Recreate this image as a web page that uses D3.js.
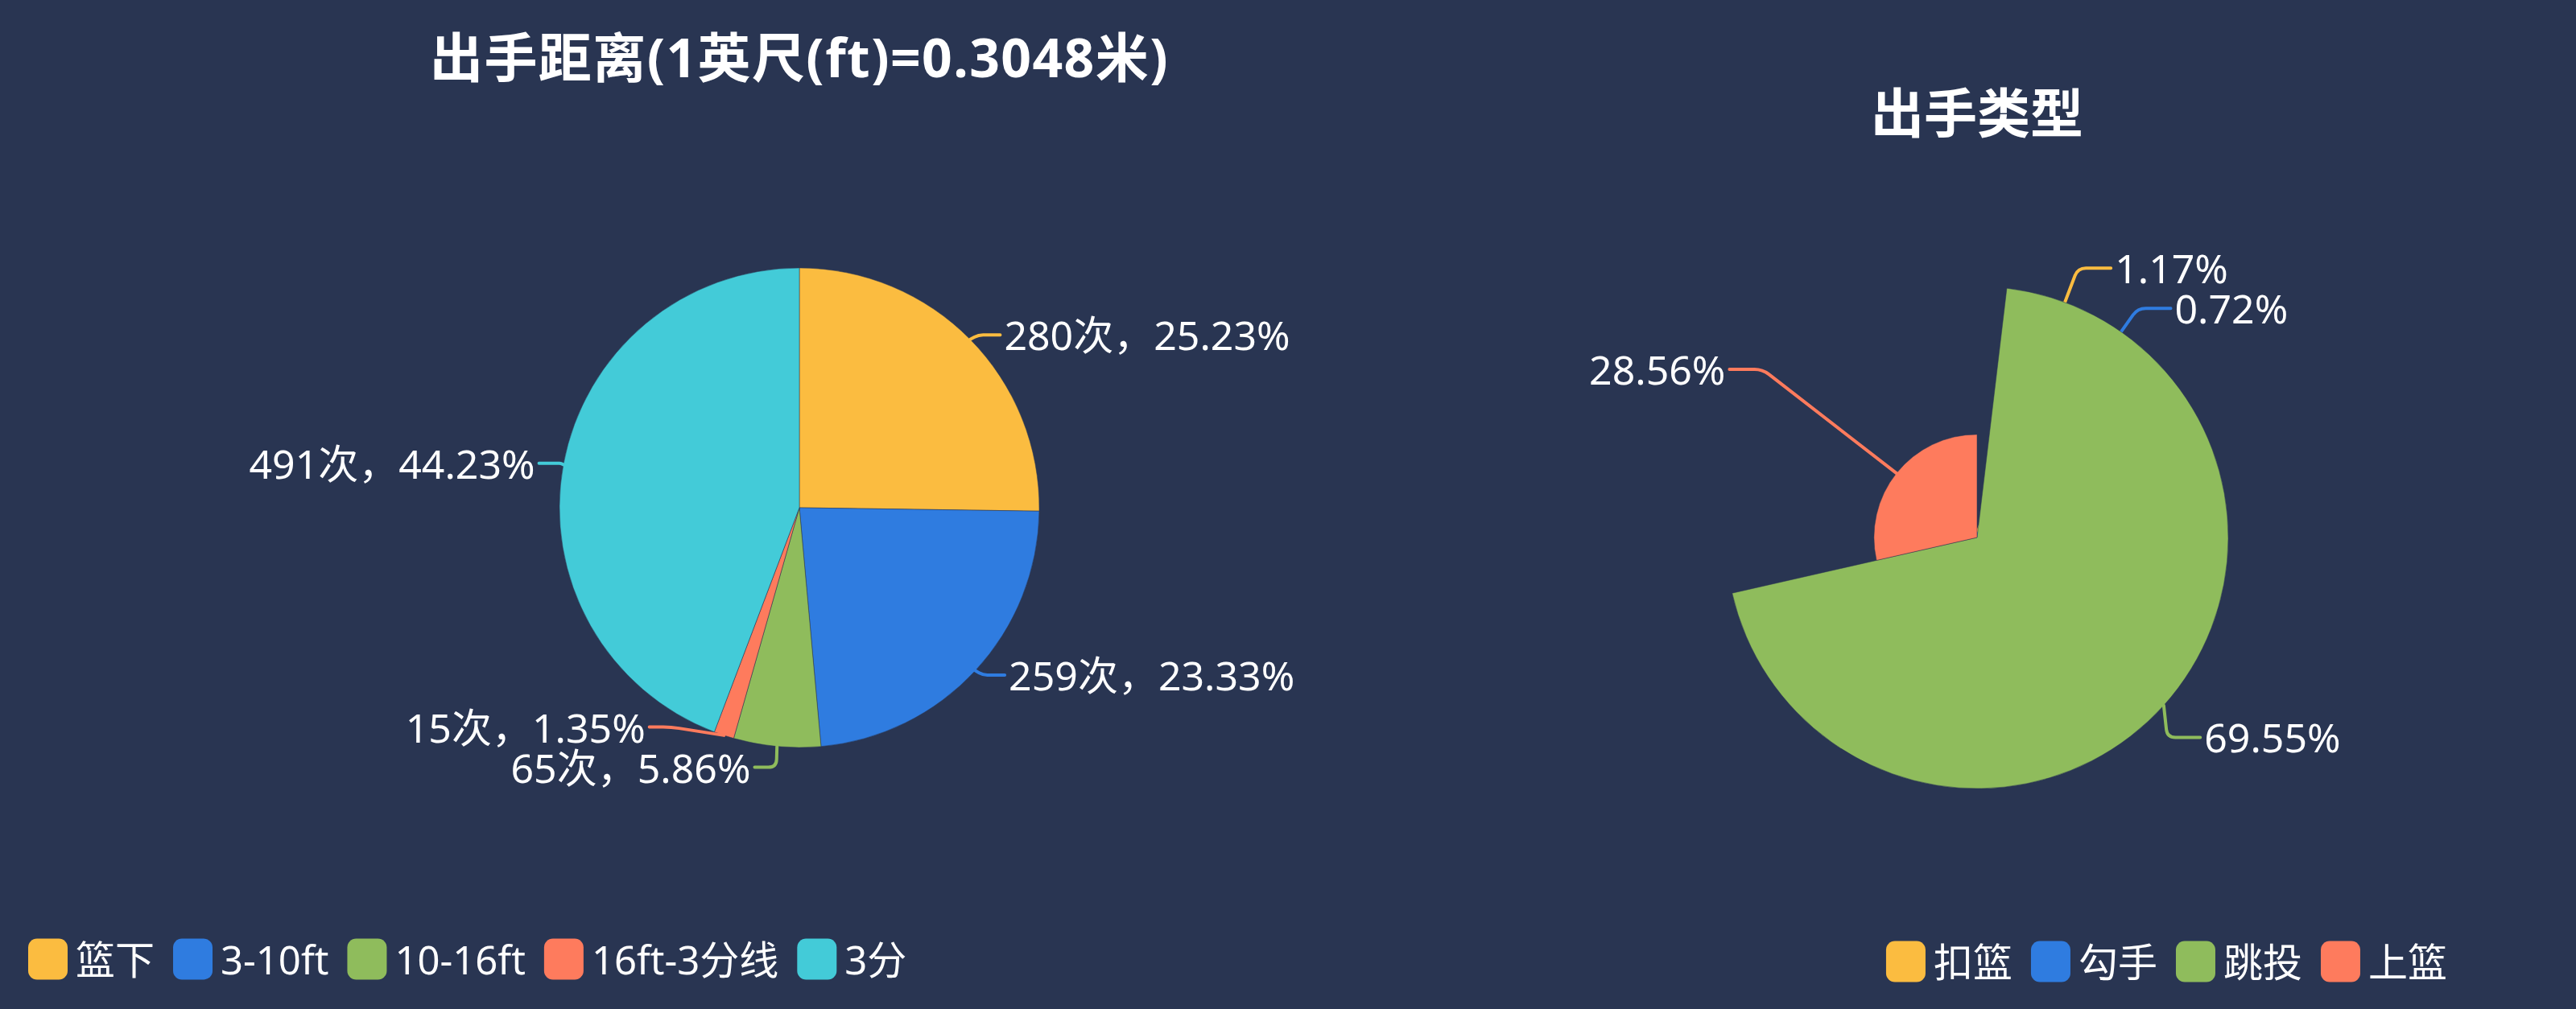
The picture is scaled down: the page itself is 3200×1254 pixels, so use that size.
<!DOCTYPE html>
<html>
<head>
<meta charset="utf-8">
<script src="https://cdn.jsdelivr.net/npm/d3@7"></script>
<style>
	html, body { margin: 0; padding: 0; background: #293552; }
	svg { display: block; font-family: "Noto Sans", "Noto Sans CJK SC", sans-serif; }
</style>
</head>
<body>
<svg id="chart"></svg>
<script>
// shot distance (counts)
const distNames = ["篮下", "3-10ft", "10-16ft", "16ft-3分线", "3分"];
const distCounts = [280, 259, 65, 15, 491];
// shot type (percent)
const typeNames = ["扣篮", "勾手", "跳投", "上篮"];
const typePercents = [1.17, 0.72, 69.55, 28.56];

const distColors = ["#fbbc40", "#2f7ce0", "#8fbc5c", "#fe7b5d", "#43cbd8"];
const typeColors = ["#fbbc40", "#2f7ce0", "#8fbc5c", "#fe7b5d"];

const width = 3200;
const height = 1254;
const bg = "#293552";

const svg = d3.select("#chart")
	.attr("width", width)
	.attr("height", height);

svg.append("rect")
	.attr("width", width)
	.attr("height", height)
	.attr("fill", bg);

const labelFont = 50;
const labelDistance = 5;

// echarts-4 style outside label placement
function layoutLabels(items, cx, cy, R, len, len2) {
	function adjustSide(list, dir) {
		list.sort((a, b) => a.y - b.y);
		function shiftDown(start, end, delta) {
			for (let j = start; j < end; j++) {
				if (list[j].y + delta > height) break;
				list[j].y += delta;
				if (j > start && j + 1 < end && list[j + 1].y > list[j].y + list[j].h) {
					shiftUp(j, delta / 2);
					return;
				}
			}
			shiftUp(end - 1, delta / 2);
		}
		function shiftUp(end, delta) {
			for (let j = end; j >= 0; j--) {
				if (list[j].y - delta < 0) break;
				list[j].y -= delta;
				if (j > 0 && list[j].y > list[j - 1].y + list[j - 1].h) break;
			}
		}
		let lastY = 0;
		for (let i = 0; i < list.length; i++) {
			const delta = list[i].y - lastY;
			if (delta < 0) shiftDown(i, list.length, -delta);
			lastY = list[i].y + list[i].h;
		}
		function changeX(arr, isDown) {
			let last = isDown ? Infinity : 0;
			arr.forEach(d => {
				const dy = Math.abs(d.y - cy);
				let dx = dy < R + len
					? Math.sqrt((R + len + len2) * (R + len + len2) - dy * dy)
					: Math.abs(d.x - cx);
				if (isDown && dx >= last) dx = last - 10;
				if (!isDown && dx <= last) dx = last + 10;
				d.x = cx + dx * dir;
				last = dx;
			});
		}
		changeX(list.filter(d => d.y < cy), false);
		changeX(list.filter(d => d.y >= cy), true);
	}
	adjustSide(items.filter(d => d.x >= cx), 1);
	adjustSide(items.filter(d => d.x < cx), -1);
	items.forEach(d => {
		const dist = d.line[1][0] - d.line[2][0];
		d.line[2][0] = d.x - d.dir * labelDistance;
		d.line[1][0] = d.line[2][0] + dist;
		d.line[1][1] = d.line[2][1] = d.y;
	});
}

// polyline with a rounded bend
function bentLine(pts) {
	const [a, b, c] = pts;
	const l1 = Math.hypot(b[0] - a[0], b[1] - a[1]);
	const l2 = Math.hypot(c[0] - b[0], c[1] - b[1]);
	const k = Math.min(10, l1 / 2, l2 / 2);
	const s = [b[0] - (b[0] - a[0]) / (l1 || 1) * k, b[1] - (b[1] - a[1]) / (l1 || 1) * k];
	const e = [b[0] + (c[0] - b[0]) / (l2 || 1) * k, b[1] + (c[1] - b[1]) / (l2 || 1) * k];
	const p = d3.path();
	p.moveTo(a[0], a[1]);
	p.lineTo(s[0], s[1]);
	p.quadraticCurveTo(b[0], b[1], e[0], e[1]);
	p.lineTo(c[0], c[1]);
	return p.toString();
}

function drawPie(opt) {
	const g = svg.append("g");
	const pie = d3.pie().sort(null).value(d => d)(opt.values);
	const total = d3.sum(opt.values);
	const rScale = d3.scaleLinear().domain([0, d3.max(opt.values)]).range([0, opt.R]);

	const items = pie.map((d, i) => {
		const r = opt.rose ? rScale(d.value) : opt.R;
		const mid = (d.startAngle + d.endAngle) / 2;
		const dx = Math.sin(mid), dy = -Math.cos(mid);
		const x1 = opt.cx + r * dx, y1 = opt.cy + r * dy;
		const x2 = x1 + dx * (opt.len + opt.R - r), y2 = y1 + dy * (opt.len + opt.R - r);
		const dir = dx < 0 ? -1 : 1;
		const x3 = x2 + dir * opt.len2;
		return {
			arc: d, r, i, dir,
			x: x3 + dir * labelDistance, y: y2, h: labelFont,
			line: [[x1, y1], [x2, y2], [x3, y2]],
			text: opt.label(d.value, d.value / total * 100)
		};
	});
	layoutLabels(items.slice(), opt.cx, opt.cy, opt.R, opt.len, opt.len2);

	const arc = d3.arc().innerRadius(0);
	const pieces = g.selectAll(".piece")
		.data(items)
		.enter()
		.append("g")
		.attr("class", "piece");

	pieces.append("path")
		.attr("transform", `translate(${opt.cx},${opt.cy})`)
		.attr("d", d => arc.outerRadius(d.r)(d.arc))
		.attr("fill", d => opt.colors[d.i])
		.attr("stroke", bg)
		.attr("stroke-opacity", 0.5)
		.attr("stroke-width", 1);

	pieces.append("path")
		.attr("d", d => bentLine(d.line))
		.attr("fill", "none")
		.attr("stroke", d => opt.colors[d.i])
		.attr("stroke-width", 4)
		.attr("stroke-linejoin", "round")
		.attr("stroke-linecap", "round");

	g.selectAll(".lbl")
		.data(items)
		.enter()
		.append("text")
		.attr("x", d => d.x)
		.attr("y", d => d.y)
		.attr("text-anchor", d => d.dir < 0 ? "end" : "start")
		.attr("dominant-baseline", "central")
		.attr("fill", "#fff")
		.attr("font-size", labelFont)
		.text(d => d.text);

	svg.append("text")
		.attr("x", opt.cx)
		.attr("y", opt.titleY)
		.attr("text-anchor", "middle")
		.attr("dominant-baseline", "central")
		.attr("fill", "#fff")
		.attr("font-size", 66)
		.attr("font-weight", "bold")
		.attr("letter-spacing", opt.titleSpacing)
		.text(opt.title);
}

function drawLegend(names, colors, x, y, align) {
	const g = svg.append("g");
	const sw = 49, sh = 51, gapText = 10, itemGap = 23;
	let pos = 0;
	names.forEach((name, i) => {
		const item = g.append("g").attr("transform", `translate(${pos},0)`);
		item.append("rect")
			.attr("x", 0)
			.attr("y", y - sh / 2)
			.attr("width", sw)
			.attr("height", sh)
			.attr("rx", 11)
			.attr("fill", colors[i]);
		const t = item.append("text")
			.attr("x", sw + gapText)
			.attr("y", y)
			.attr("dominant-baseline", "central")
			.attr("fill", "#fff")
			.attr("font-size", 49)
			.text(name);
		pos += sw + gapText + t.node().getComputedTextLength() + itemGap;
	});
	const total = pos - itemGap;
	const left = align === "end" ? x - total : x;
	g.attr("transform", `translate(${left},0)`);
}

drawPie({
	values: distCounts,
	colors: distColors,
	cx: 993, cy: 631, R: 298, len: 8, len2: 27,
	rose: false,
	title: "出手距离(1英尺(ft)=0.3048米)",
	titleY: 70,
	titleSpacing: 1.4,
	label: (v, p) => `${v}次，${p.toFixed(2)}%`
});

drawPie({
	values: typePercents,
	colors: typeColors,
	cx: 2456, cy: 668, R: 312, len: 23, len2: 41,
	rose: true,
	title: "出手类型",
	titleY: 139,
	titleSpacing: 0,
	label: (v) => `${v.toFixed(2)}%`
});

drawLegend(distNames, distColors, 35, 1192, "start");
drawLegend(typeNames, typeColors, 3040, 1195, "end");
</script>
</body>
</html>
